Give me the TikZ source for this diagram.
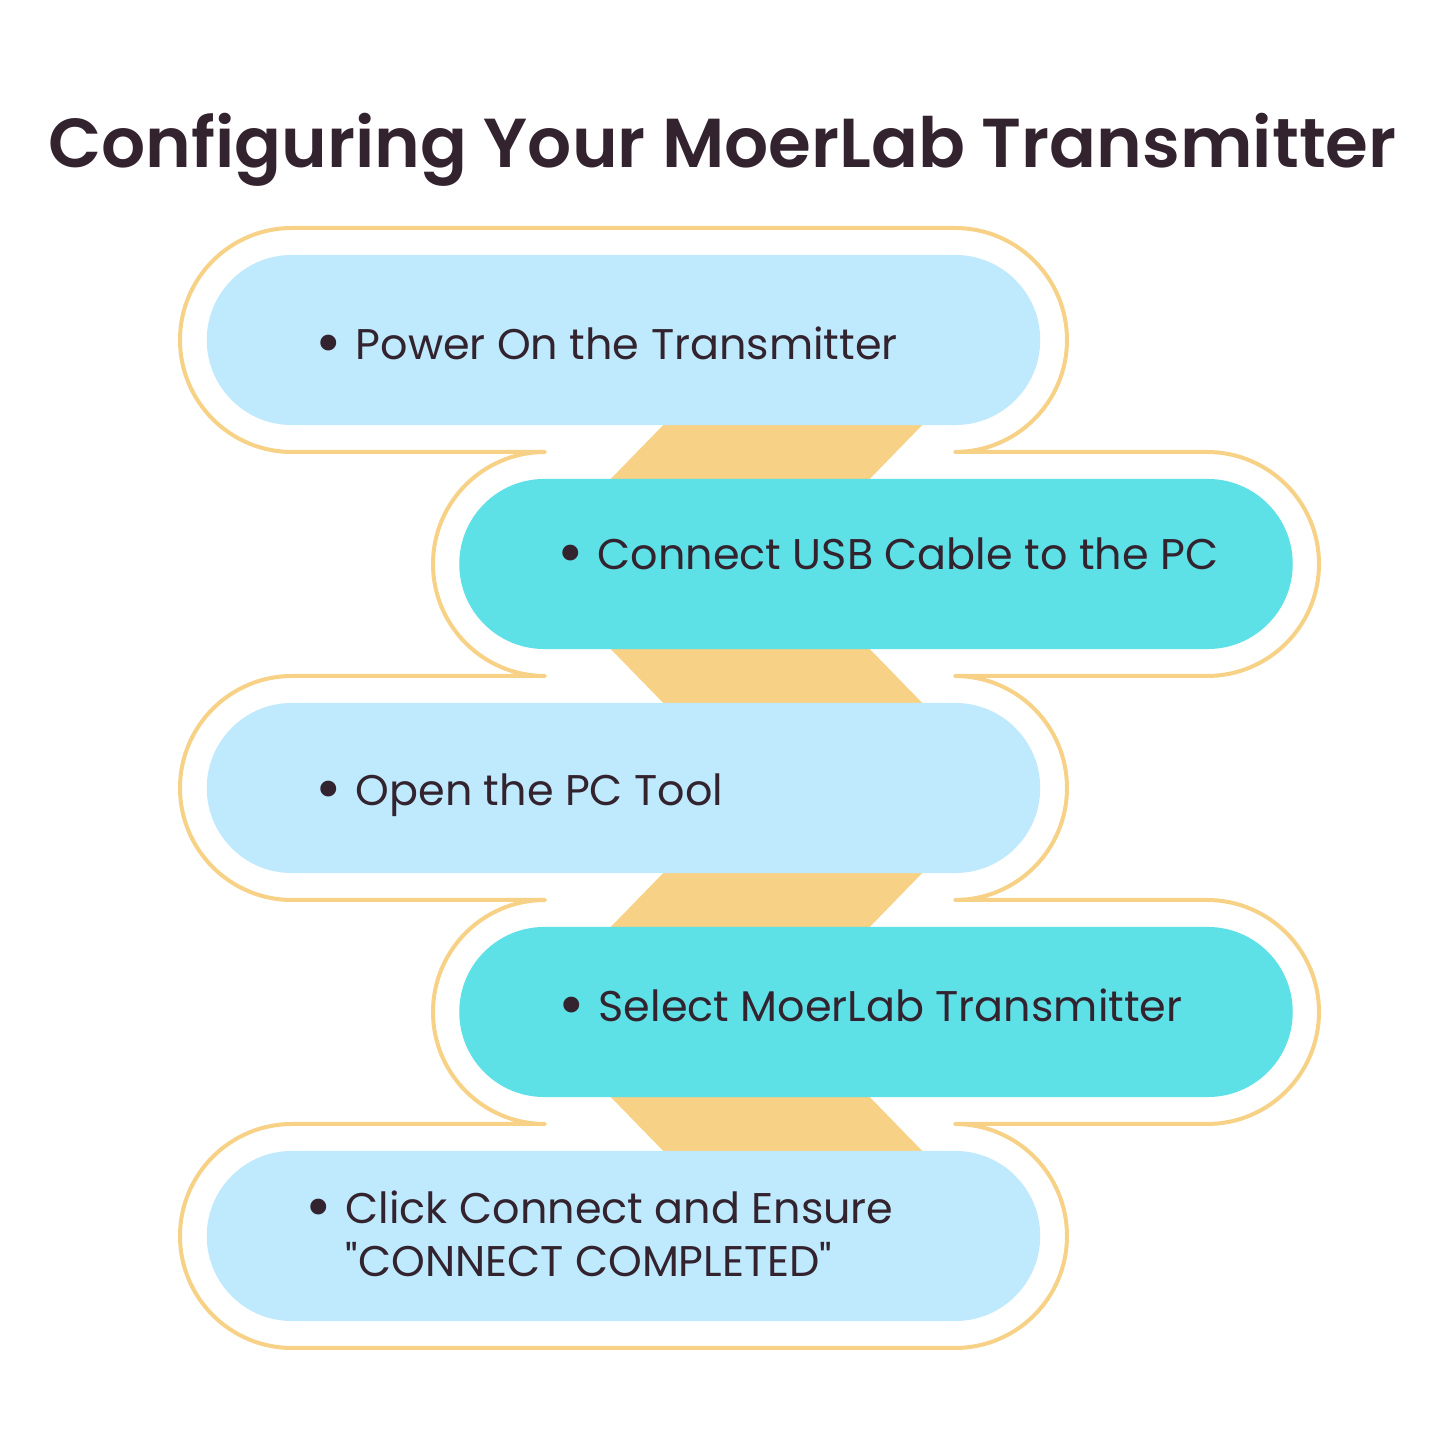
\documentclass[tikz,border=0pt]{standalone}
\usepackage{fontspec}
\setmainfont{Poppins}
\newfontfamily\titlefont{Poppins SemiBold}
\usetikzlibrary{shapes.misc}

\definecolor{sky}{RGB}{191,234,253}
\definecolor{aqua}{RGB}{93,225,230}
\definecolor{sand}{RGB}{247,209,134}
\definecolor{ink}{RGB}{51,35,47}

\newcommand\dotmark{\makebox[0.40cm][l]{\raisebox{-0.1em}{\scalebox{1.5}{\textbullet}}}}

\begin{document}
\begin{tikzpicture}[x=0.01cm,y=0.01cm,
  pill/.style={rounded rectangle,minimum width=8.33cm,minimum height=1.7cm,inner sep=0pt},
  itemtext/.style={anchor=base west,inner sep=0pt,text=ink,align=left,
    font=\fontsize{12.2}{15.1}\selectfont}]
\fill[white] (0,0) rectangle (1445,1445);

% links between the steps
\foreach \ya/\xt/\xb in {1105/673/601,881/601/673,657/673/601,433/601/673}
  \fill[sand] (\xt,\ya-75) -- ++(259,0) -- (\xb+259,\ya-149) -- (\xb,\ya-149) -- cycle;

% outline round all steps
\draw[sand,line width=0.04cm,line join=round]
  (955,1217) -- (292,1217) arc[start angle=90,end angle=270,radius=112]
  -- (545,993) arc[start angle=90,end angle=270,radius=112]
  -- (292,769) arc[start angle=90,end angle=270,radius=112]
  -- (545,545) arc[start angle=90,end angle=270,radius=112]
  -- (292,321) arc[start angle=90,end angle=270,radius=112]
  -- (955,97) arc[start angle=-90,end angle=90,radius=112]
  -- (1207,321) arc[start angle=-90,end angle=90,radius=112]
  -- (955,545) arc[start angle=-90,end angle=90,radius=112]
  -- (1207,769) arc[start angle=-90,end angle=90,radius=112]
  -- (955,993) arc[start angle=-90,end angle=90,radius=112]
  -- cycle;

\foreach \i/\cx/\cy/\col in {1/623.5/1105/sky,2/876/881/aqua,3/623.5/657/sky,4/876/433/aqua,5/623.5/209/sky}
  \node[pill,fill=\col] (p\i) at (\cx,\cy) {};

\node[font=\fontsize{19.7}{24}\selectfont\titlefont,text=ink,anchor=base,inner sep=0pt] (title) at (722.5,1277) {Configuring Your MoerLab Transmitter};

\node[itemtext] (t1) at (315,1085) {\dotmark Power On the Transmitter};
\node[itemtext] (t2) at (557,875) {\dotmark Connect USB Cable to the PC};
\node[itemtext] (t3) at (315,639) {\dotmark Open the PC Tool};
\node[itemtext] (t4) at (558,423) {\dotmark Select MoerLab Transmitter};
\node[itemtext] (t5) at (305,168) {\dotmark Click Connect and Ensure\\\hphantom{\dotmark}\textquotedbl CONNECT COMPLETED\textquotedbl};
\end{tikzpicture}
\end{document}
